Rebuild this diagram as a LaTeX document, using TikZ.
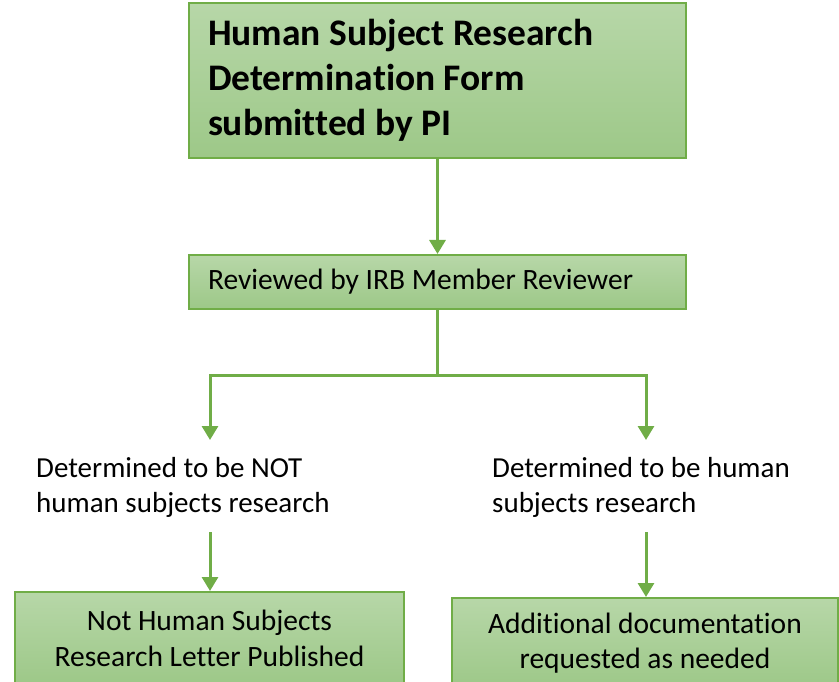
\documentclass[tikz,border=0pt]{standalone}
\usepackage{fontspec}
\setmainfont{Carlito}[RawFeature={-liga;-calt;-clig}]
\usetikzlibrary{arrows.meta}
\definecolor{boxline}{RGB}{112,173,71}
\definecolor{boxtop}{RGB}{183,215,168}
\definecolor{boxbot}{RGB}{157,200,136}

\begin{document}
\begin{tikzpicture}[x=1pt,y=1pt,yscale=-1,xscale=1,
	greenbox/.style={draw=boxline, line width=2pt, top color=boxtop, bottom color=boxbot, inner sep=0pt},
	flow/.style={draw=boxline, line width=3pt, -{Triangle[width=16pt,length=14pt]}},
	plaintext/.style={inner sep=0pt, align=left, anchor=north west, font=\fontsize{29}{35}\selectfont}]

	\useasboundingbox (0,0) rectangle (839,682);
	\clip (0,0) rectangle (839,682);

	\node [greenbox, minimum width=497, minimum height=155, text width=459, align=flush left, font=\bfseries\fontsize{37.5}{45}\selectfont] (form) at (437.5,80.5) {Human Subject Research\\Determination Form\\submitted by PI};
	\node [greenbox, minimum width=497, minimum height=54, text width=459, align=flush left, font=\fontsize{29.5}{32}\selectfont] (review) at (437.5,282) {Reviewed by IRB Member Reviewer};

	\node [plaintext] (notHSR) at (36,457) {Determined to be NOT\\human subjects research};
	\node [plaintext] (isHSR) at (492,457) {Determined to be human\\subjects research};

	\node [greenbox, minimum width=389, minimum height=92, align=center, font=\fontsize{29.5}{36}\selectfont] (letter) at (209.5,638) {Not Human Subjects\\Research Letter Published};
	\node [greenbox, minimum width=386, minimum height=90, align=center, font=\fontsize{29.5}{35}\selectfont] (docs) at (645,643) {Additional documentation\\requested as needed};

	\coordinate (split) at (437.5,375);
	\coordinate (leftend) at (210,440);
	\coordinate (rightend) at (646,440);
	\coordinate (leftstart) at (210,532);
	\coordinate (rightstart) at (646,532);

	\draw [flow] (form.south) -- (review.north);
	\draw [draw=boxline, line width=3pt] (review.south) -- (split);
	\draw [flow] (split) -| (leftend);
	\draw [flow] (split) -| (rightend);
	\draw [flow] (leftstart) -- (letter.north -| leftstart);
	\draw [flow] (rightstart) -- (docs.north -| rightstart);
\end{tikzpicture}
\end{document}
